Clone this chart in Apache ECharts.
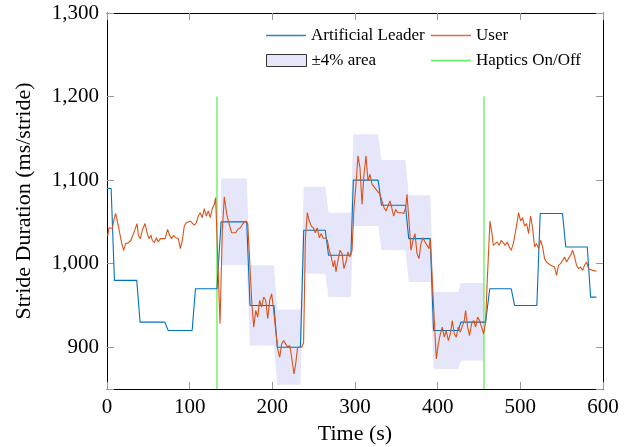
<!DOCTYPE html>
<html>
<head>
<meta charset="utf-8">
<script src="https://cdn.jsdelivr.net/npm/echarts@6/dist/echarts.min.js"></script>
<style>
html, body { margin: 0; padding: 0; background: #fff; }
#main { width: 641px; height: 447px; }
</style>
</head>
<body>
<div id="main"></div>
<script>
// artificial leader step profile (time s, stride ms)
var leaderTime = [0, 5, 9, 36, 40, 70, 74, 103, 107, 133, 138, 169, 173, 202, 206, 234, 238, 264, 268, 295, 298, 328, 332, 361, 365, 391, 395, 425, 428, 458, 463, 489, 493, 520, 524, 551, 555, 581, 585, 592];
var leaderValue = [1090, 1090, 980, 980, 930, 930, 920, 920, 970, 970, 1050, 1050, 950, 950, 900, 900, 1040, 1040, 1010, 1010, 1100, 1100, 1070, 1070, 1030, 1030, 920, 920, 930, 930, 970, 970, 950, 950, 1060, 1060, 1020, 1020, 960, 960];

// shaded band around the leader while haptics are on
var bandTime = [138, 169, 173, 202, 206, 234, 238, 264, 268, 295, 298, 328, 332, 361, 365, 391, 395, 425, 428, 456];
var bandUpper = [1102, 1102, 998, 998, 945, 945, 1092, 1092, 1061, 1061, 1155, 1155, 1124, 1124, 1082, 1082, 966, 966, 977, 977];
var bandLower = [998, 998, 902, 902, 855, 855, 988, 988, 960, 960, 1045, 1045, 1016, 1016, 978, 978, 874, 874, 884, 884];

// user stride durations
var userTime = [0.8, 2.4, 4.8, 6.4, 8.9, 10.5, 12.9, 15.3, 17.7, 20.1, 22.6, 25.8, 29, 31.4, 33.9, 36.3, 37.9, 40.3, 42.7, 46, 48.4, 50.8, 53.2, 54.8, 57.2, 59.7, 62.1, 64.5, 66.9, 70.2, 73.3, 75.7, 78.1, 80.7, 83.1, 86.3, 88.7, 91.1, 93.5, 95.9, 98.3, 100.8, 103.2, 105.6, 108, 110.4, 112.8, 115.3, 117.7, 120.1, 122.5, 124.9, 127.4, 129.8, 131.4,
  136.7, 139.5, 141.9, 144.7, 147.6, 150.8, 153.2, 155.7, 158.1, 161.3, 164.5, 167.8, 170.2, 172.6, 175, 177.5, 179.9, 182.3, 184.7, 187.1, 189.6, 192, 194.4, 196.8, 199.2, 201.6, 204.1, 206.5, 208.9, 211.3, 213.7, 216.1, 218.5, 221, 223.4, 226.2, 228.2, 230.6, 233, 235.4, 237.8,
  240, 242.3, 244.7, 247.1, 249.6, 252, 254.4, 256.8, 259.2, 261.6, 264.1, 266.5, 268.9, 271.3, 273.7, 275.4, 277, 279.4, 281.8, 284.3, 286.7, 289.1, 291.5, 293.9, 296.4, 298.8, 301.2, 303.6, 306, 308.5, 310.9, 313.3, 315.7, 318.1, 320.6, 323, 325.4, 327.8, 330.2, 332.6, 335.1, 337.5, 339.9, 342.3,
  344.4, 346.8, 349.2, 351.6, 354, 356.4, 358.9, 361.3, 362.9, 365.3, 367.7, 370.2, 372.6, 375, 377.4, 379.8, 382.2, 384.7, 387.1, 389.5, 391.1, 393.5, 395.9, 398.4, 400.8, 403.2, 405.6, 408, 410.4, 412.9, 415.3, 417.7, 420.1, 422.5, 424.9, 427.4, 429.8, 432.2, 433.8, 436.2, 438.6, 441, 443.5, 445.9, 448.3, 450.7, 453.1, 455.6,
  458, 460, 463.3, 465.7, 467.3, 469.7, 472.1, 474.5, 477, 479.4, 481.8, 484.2, 486.6, 489, 491.5, 493.9, 496.3, 497.9, 500.3, 502.7, 505.1, 507.6, 510, 512.4, 514.8, 517.2, 519.6, 522.1, 524.5, 526.9, 529.3, 531.7, 534.1, 536.6, 539, 541.4, 543.8, 546.2, 548.7, 551.1, 553.5, 555.9, 558.3, 560.8, 563.2, 565.6, 568, 570.4, 572.9, 575.3, 577.7, 580.1, 582.5, 584.9, 587.4, 589.8, 592.2];
var userValue = [1033, 1043, 1045, 1042, 1055, 1060, 1049, 1037, 1025, 1016, 1024, 1025, 1028, 1030, 1041, 1048, 1034, 1030, 1040, 1048, 1037, 1030, 1034, 1028, 1025, 1031, 1026, 1030, 1028, 1030, 1041, 1034, 1030, 1034, 1031, 1030, 1018, 1028, 1045, 1049, 1047, 1051, 1049, 1046, 1049, 1057, 1061, 1055, 1066, 1057, 1063, 1055, 1066, 1071, 1079,
  928, 1040, 1080, 1060, 1048, 1037, 1035, 1037, 1041, 1043, 1048, 1051, 1048, 1004, 956, 924, 944, 936, 956, 948, 960, 956, 934, 956, 964, 944, 920, 898, 888, 904, 908, 904, 900, 902, 888, 868, 880, 900, 898, 900, 905,
  1030, 1061, 1051, 1045, 1043, 1037, 1043, 1031, 1036, 1030, 1031, 1028, 1016, 1008, 996, 1004, 990, 1004, 1016, 1012, 994, 1002, 1014, 1008, 1016, 1067, 1095, 1129, 1115, 1071, 1107, 1129, 1099, 1107, 1095, 1097, 1089, 1087, 1083, 1075, 1067, 1063, 1069, 1075,
  1067, 1057, 1065, 1061, 1060, 1061, 1060, 1067, 1083, 1051, 1016, 1028, 1036, 1012, 1006, 1024, 1031, 1026, 1028, 1018, 1030, 980, 932, 886, 904, 916, 924, 912, 920, 908, 916, 932, 916, 912, 924, 918, 916, 932, 944, 924, 914, 928, 932, 924, 936, 932, 924, 916,
  930, 980, 1051, 1036, 1022, 1024, 1026, 1022, 1028, 1030, 1022, 1026, 1020, 1016, 1024, 1037, 1051, 1061, 1051, 1055, 1045, 1048, 1036, 1057, 1043, 1020, 1024, 1018, 1028, 1020, 1006, 1002, 1004, 998, 1000, 996, 986, 998, 1000, 1002, 1008, 1002, 1006, 1010, 1016, 1008, 998, 994, 996, 992, 998, 1002, 994, 996, 992, 994, 991];

// haptics switched on / off
var hapticsTime = [133, 456];
var hapticsSpan = [850, 1200];

var xTicks = [0, 100, 200, 300, 400, 500, 600];
var yTicks = [900, 1000, 1100, 1200, 1300];

function pairs(xs, ys) {
    var out = [];
    for (var i = 0; i < xs.length; i++) {
        out.push([xs[i], ys[i]]);
    }
    return out;
}

var serif = '"Liberation Serif", "DejaVu Serif", serif';
var blue = '#0072bd';
var orange = '#d95319';
var green = '#63ee5f';
var lavender = '#e6e6fa';

var myChart = echarts.init(document.getElementById('main'), null, {renderer: 'canvas'});

var hapticsSeries = hapticsTime.map(function(t) {
    return {
        name: 'Haptics On/Off',
        type: 'line',
        symbol: 'none',
        z: 2,
        lineStyle: {color: green, width: 1.3},
        itemStyle: {color: green},
        data: [[t, hapticsSpan[0]], [t, hapticsSpan[1]]]
    };
});

// one legend per entry so each icon can be sized on its own
function legendEntry(name, left, top, height, style) {
    return {
        left: left,
        top: top,
        padding: 0,
        itemWidth: 40,
        itemHeight: height,
        selectedMode: false,
        textStyle: {fontFamily: serif, fontSize: 17, color: '#000'},
        data: [{name: name, icon: 'rect', itemStyle: style}]
    };
}

var option = {
    animation: false,
    backgroundColor: '#fff',
    grid: {left: 107, right: 38, top: 13, bottom: 58, outerBoundsMode: 'none', containLabel: false},
    legend: [
        legendEntry('Artificial Leader', 266, 27, 1.5, {color: blue, borderWidth: 0, opacity: 0.85}),
        legendEntry('User', 431, 27, 1.5, {color: orange, borderWidth: 0, opacity: 0.85}),
        legendEntry('±4% area', 266, 52, 12, {color: lavender, borderColor: '#333', borderWidth: 1}),
        legendEntry('Haptics On/Off', 431, 52, 1.5, {color: green, borderWidth: 0})
    ],
    xAxis: [{
        type: 'value',
        min: 0,
        max: 600,
        interval: 100,
        name: 'Time (s)',
        nameLocation: 'middle',
        nameGap: 31,
        nameTextStyle: {fontFamily: serif, fontSize: 22, color: '#000'},
        splitLine: {show: false},
        axisLine: {onZero: false, lineStyle: {color: '#000', width: 1}},
        axisTick: {inside: true, length: 7, lineStyle: {color: '#999'}},
        axisLabel: {fontFamily: serif, fontSize: 21, color: '#000', margin: 8,
            formatter: function(v) { return xTicks.indexOf(v) >= 0 ? String(v) : ''; }}
    }, {
        type: 'value',
        position: 'top',
        min: 0,
        max: 600,
        interval: 100,
        splitLine: {show: false},
        axisLine: {onZero: false, lineStyle: {color: '#000', width: 1}},
        axisTick: {inside: true, length: 7, lineStyle: {color: '#999'}},
        axisLabel: {show: false}
    }],
    yAxis: [{
        type: 'value',
        min: 850,
        max: 1300,
        name: 'Stride Duration (ms/stride)',
        nameLocation: 'middle',
        nameGap: 72,
        nameTextStyle: {fontFamily: serif, fontSize: 22, color: '#000'},
        splitLine: {show: false},
        axisLine: {show: true, onZero: false, lineStyle: {color: '#000', width: 1}},
        axisTick: {show: true, inside: true, length: 7, lineStyle: {color: '#999'}},
        axisLabel: {fontFamily: serif, fontSize: 21, color: '#000', margin: 8,
            formatter: function(v) { return yTicks.indexOf(v) >= 0 ? v.toLocaleString('en-US') : ''; }}
    }, {
        type: 'value',
        position: 'right',
        min: 850,
        max: 1300,
        splitLine: {show: false},
        axisLine: {show: true, onZero: false, lineStyle: {color: '#000', width: 1}},
        axisTick: {show: true, inside: true, length: 7, lineStyle: {color: '#999'}},
        axisLabel: {show: false}
    }],
    series: [{
        name: '±4% area',
        type: 'custom',
        z: 1,
        itemStyle: {color: lavender, borderColor: '#333', borderWidth: 1},
        encode: {x: 0, y: 1},
        data: [[bandTime[0], bandUpper[0]]],
        renderItem: function(params, api) {
            var pts = [];
            for (var i = 0; i < bandTime.length; i++) {
                pts.push(api.coord([bandTime[i], bandUpper[i]]));
            }
            for (var j = bandTime.length - 1; j >= 0; j--) {
                pts.push(api.coord([bandTime[j], bandLower[j]]));
            }
            return {type: 'polygon', shape: {points: pts}, style: {fill: lavender}};
        }
    }].concat(hapticsSeries).concat([{
        name: 'Artificial Leader',
        type: 'line',
        symbol: 'none',
        z: 3,
        lineStyle: {color: blue, width: 1.1},
        itemStyle: {color: blue},
        data: pairs(leaderTime, leaderValue)
    }, {
        name: 'User',
        type: 'line',
        symbol: 'none',
        z: 4,
        lineStyle: {color: orange, width: 1.1},
        itemStyle: {color: orange},
        data: pairs(userTime, userValue)
    }])
};

myChart.setOption(option);
window.onresize = myChart.resize;
</script>
</body>
</html>
